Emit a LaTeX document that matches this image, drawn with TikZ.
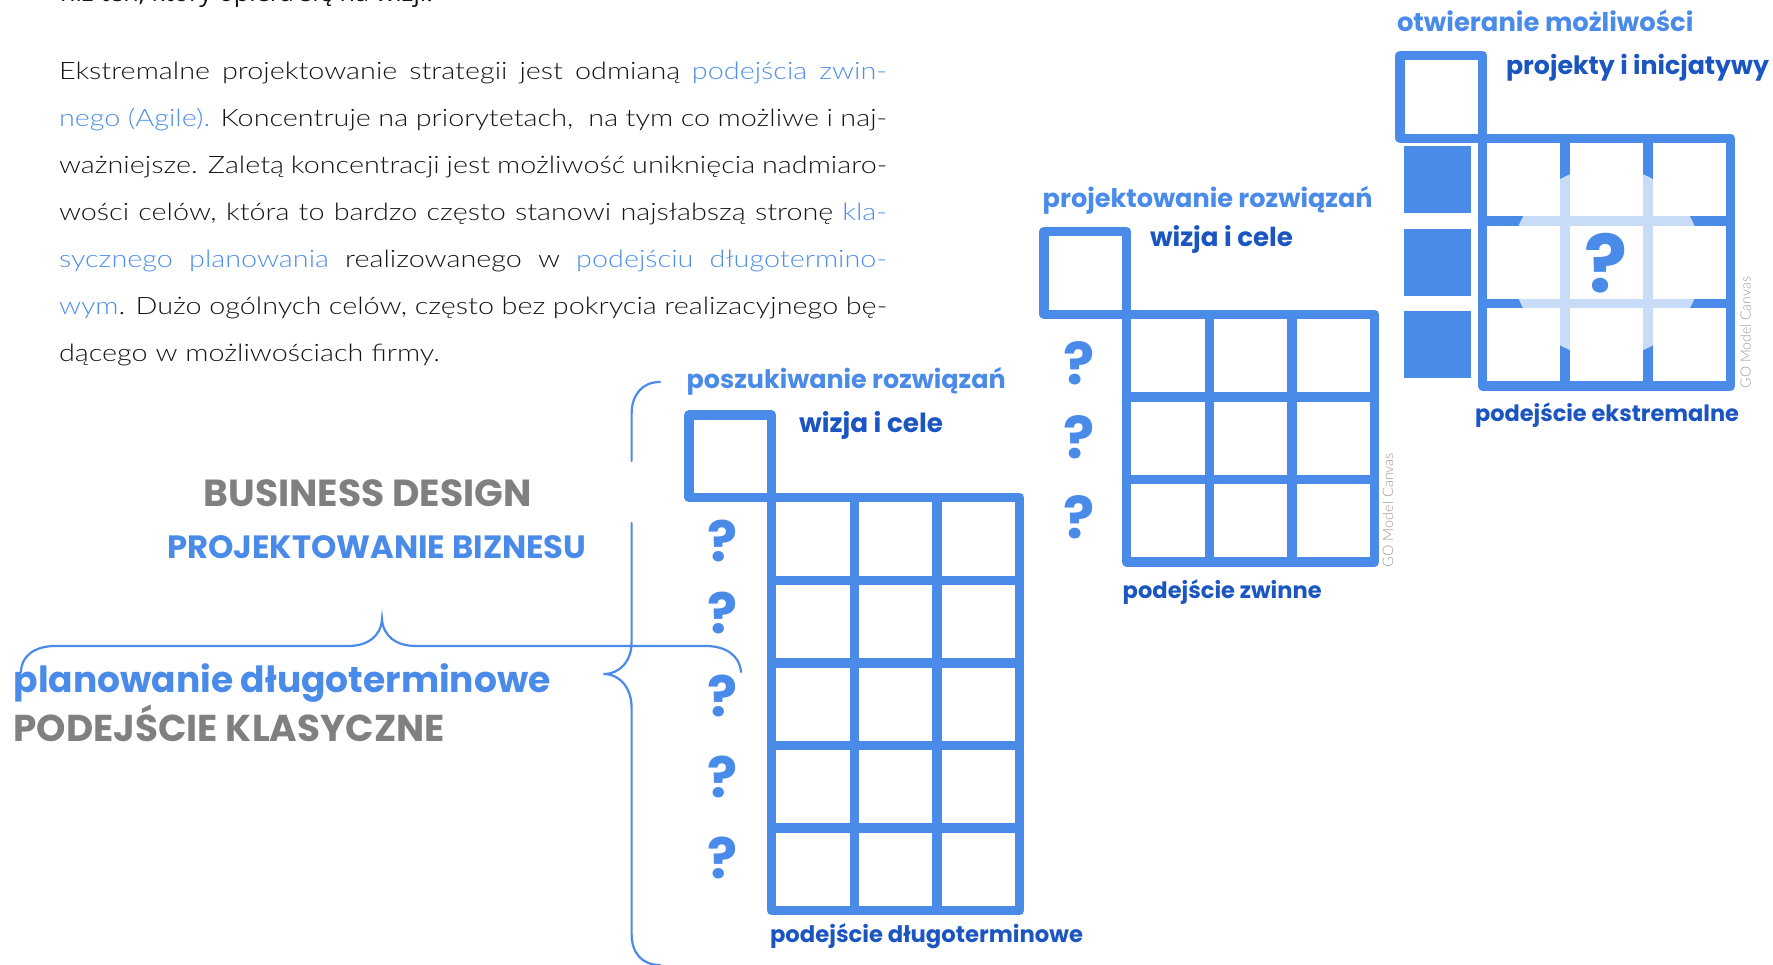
\documentclass[tikz,border=0pt]{standalone}
\usepackage{graphicx}
\usepackage{fontspec}
\setmainfont{Lato}
\IfFontExistsTF{Lato Light}
  {\newfontfamily\bodyfont{Lato Light}[FakeStretch=1.2]\newfontfamily\notefont{Lato Light}}
  {\newfontfamily\bodyfont{Lato}[FakeStretch=1.2]\newfontfamily\notefont{Lato}}
\newfontfamily\headfont{Poppins}
\newfontfamily\topfont{Open Sans}
\newcommand\hd{\headfont\bfseries}
\newcommand\fitw[2]{\resizebox{#1pt}{!}{#2}}
\newcommand\lnk[1]{\textcolor{linkblue}{#1}}

\definecolor{gridblue}{HTML}{4A8BEA}
\definecolor{paleblue}{HTML}{C9DCF7}
\definecolor{deepblue}{HTML}{1A55C2}
\definecolor{headgray}{HTML}{808080}
\definecolor{linkblue}{HTML}{4F8FEA}
\definecolor{bodyink}{HTML}{151515}
\definecolor{notegray}{HTML}{9A9A9A}

\def\cs{82.6}

% one canvas: a corner square above-left plus a cols x rows block of cells
\newcommand\canvasgrid[5]{%
  \draw[#5] (#1-\cs,#2-\cs) rectangle (#1,#2);
  \foreach \i in {1,...,#3}{
    \foreach \j in {1,...,#4}{
      \draw[#5] ({#1+(\i-1)*\cs},{#2+(\j-1)*\cs}) rectangle ++(\cs,\cs);
    }
  }
}

\tikzset{
  gridline/.style={draw=gridblue, line width=9.5pt, line join=round},
  paleline/.style={draw=paleblue, line width=9.5pt, line join=round},
  brace/.style={draw=gridblue, line width=2.2pt, line cap=round},
  txt/.style={inner sep=0pt, outer sep=0pt, anchor=base west},
  bodyline/.style={txt, font=\bodyfont\fontsize{24}{28}\selectfont, text=bodyink},
  qmark/.style={inner sep=0pt, text=gridblue, font=\hd\fontsize{56}{60}\selectfont},
  note/.style={inner sep=0pt, text=notegray, rotate=90},
}

\begin{document}
\begin{tikzpicture}[x=1pt, y=-1pt]
\useasboundingbox (0,0) rectangle (1773,965);
\clip (0,0) rectangle (1773,965);

% ---------- running text ----------
\node[txt] (prev) at (60,2) {\fitw{373}{\topfont\fontsize{22}{26}\selectfont\color{bodyink}niż ten, który opiera się na wizji.}};
\node[bodyline] (p1) at (59,80)  {\makebox[828pt][s]{Ekstremalne projektowanie strategii jest odmianą \lnk{podejścia zwin-}}};
\node[bodyline] (p2) at (59,127) {\makebox[828pt][s]{\lnk{nego (Agile).} Koncentruje na priorytetach,~ na tym co możliwe i naj-}};
\node[bodyline] (p3) at (59,174) {\makebox[828pt][s]{ważniejsze. Zaletą koncentracji jest możliwość uniknięcia nadmiaro-}};
\node[bodyline] (p4) at (59,221) {\makebox[828pt][s]{wości celów, która to bardzo często stanowi najsłabszą stronę \lnk{kla-}}};
\node[bodyline] (p5) at (59,268) {\makebox[828pt][s]{\lnk{sycznego planowania} realizowanego w \lnk{podejściu długotermino-}}};
\node[bodyline] (p6) at (59,315) {\makebox[828pt][s]{\lnk{wym}. Dużo ogólnych celów, często bez pokrycia realizacyjnego bę-}};
\node[bodyline] (p7) at (59,362) {dącego w możliwościach firmy.};

% ---------- left captions ----------
\node[txt] (bd)  at (203.6,507) {\fitw{328}{\hd\fontsize{30}{36}\selectfont\color{headgray}BUSINESS DESIGN}};
\node[txt] (pb)  at (167,558.4) {\fitw{419.5}{\hd\fontsize{30}{36}\selectfont\color{gridblue}PROJEKTOWANIE BIZNESU}};
\node[txt] (pd)  at (13.6,692)  {\fitw{537}{\hd\fontsize{30}{36}\selectfont\color{gridblue}planowanie długoterminowe}};
\node[txt] (pk)  at (13.6,741)  {\fitw{431}{\hd\fontsize{30}{36}\selectfont\color{headgray}PODEJŚCIE KLASYCZNE}};

% horizontal brace under the business design caption
\draw[brace] (21,672) .. controls (21,656) and (35,646) .. (55,646) -- (348,646)
  .. controls (368,646) and (381,636) .. (382,619)
  .. controls (383,636) and (396,646) .. (416,646) -- (706,646)
  .. controls (726,646) and (740,656) .. (741,672);

% vertical brace embracing the long-term canvas
\draw[brace] (660,382) .. controls (642,382) and (631.6,395) .. (631.6,414) -- (631.6,461);
\draw[brace] (631.6,523) -- (631.6,642) .. controls (631.6,661) and (620,674) .. (603.5,674)
  .. controls (620,674) and (631.6,688) .. (631.6,708) -- (631.6,934)
  .. controls (631.6,953) and (642,965) .. (660,965);

% ---------- long-term canvas ----------
\canvasgrid{771.7}{497.7}{3}{5}{gridline}
\node[txt] (lt-head) at (686.7,389) {\fitw{319}{\hd\fontsize{30}{36}\selectfont\color{gridblue}poszukiwanie rozwiązań}};
\node[txt] (lt-vis)  at (799,432)   {\fitw{144}{\hd\fontsize{30}{36}\selectfont\color{deepblue}wizja i cele}};
\node[txt] (lt-foot) at (770,942)   {\fitw{313}{\hd\fontsize{30}{36}\selectfont\color{deepblue}podejście długoterminowe}};
\foreach \y [count=\k] in {541,613,696,777,858}
  \node[qmark] (lt-q\k) at (723,\y) {?};

% ---------- agile canvas ----------
\canvasgrid{1126.7}{314.3}{3}{3}{gridline}
\node[txt] (ag-head) at (1042.7,208) {\fitw{330}{\hd\fontsize{30}{36}\selectfont\color{gridblue}projektowanie rozwiązań}};
\node[txt] (ag-vis)  at (1150,247)   {\fitw{143}{\hd\fontsize{30}{36}\selectfont\color{deepblue}wizja i cele}};
\node[txt] (ag-foot) at (1122.7,598) {\fitw{199}{\hd\fontsize{30}{36}\selectfont\color{deepblue}podejście zwinne}};
\foreach \y [count=\k] in {363,437,517}
  \node[qmark, font=\hd\fontsize{58}{60}\selectfont] (ag-q\k) at (1079,\y) {?};
\node[note] (ag-note) at (1388,510) {\fitw{114}{\notefont\fontsize{14}{16}\selectfont GO Model Canvas}};

% ---------- extreme canvas ----------
\canvasgrid{1482.6}{138.3}{3}{3}{gridline}
\begin{scope}
  \clip (1606.5,262.2) circle (95);
  \canvasgrid{1482.6}{138.3}{3}{3}{paleline}
\end{scope}
\foreach \y [count=\k] in {179.6,262.2,344.8}
  \fill[gridblue] (1404,\y-33.4) rectangle (1471,\y+33.4);
\node[qmark, font=\hd\fontsize{80}{80}\selectfont] (ex-q) at (1606,263) {?};
\node[txt] (ex-head) at (1397,32)   {\fitw{296.5}{\hd\fontsize{30}{36}\selectfont\color{gridblue}otwieranie możliwości}};
\node[txt] (ex-proj) at (1506,75)   {\fitw{263}{\hd\fontsize{30}{36}\selectfont\color{deepblue}projekty i inicjatywy}};
\node[txt] (ex-foot) at (1475,422)  {\fitw{264}{\hd\fontsize{30}{36}\selectfont\color{deepblue}podejście ekstremalne}};
\node[note] (ex-note) at (1745.6,332.5) {\fitw{111}{\notefont\fontsize{14}{16}\selectfont GO Model Canvas}};
\end{tikzpicture}
\end{document}
